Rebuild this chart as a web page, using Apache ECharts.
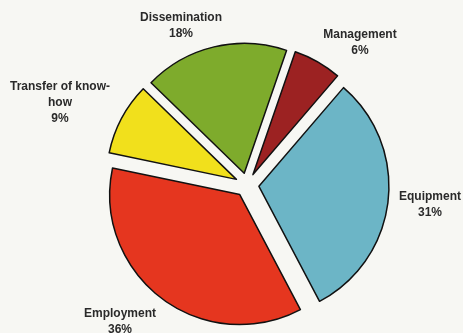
<!DOCTYPE html>
<html><head><meta charset="utf-8">
<script src="https://cdn.jsdelivr.net/npm/echarts@6/dist/echarts.min.js"></script>
<style>html,body{margin:0;padding:0;background:#f7f7f3;}#c{width:463px;height:333px;}</style>
</head><body><div id="c"></div>
<script>
var categories = ['Management', 'Equipment', 'Employment', 'Transfer of know-how', 'Dissemination'];
var values = [6, 31, 36, 9, 18];
var colors = ['#9c2222', '#6cb5c6', '#e5361f', '#f1e01c', '#7eab2c'];

// label anchor points (text layout only)
var labelAnchors = [[360, 43], [430, 205], [120, 322], [60, 103], [181, 26]];

var total = values.reduce(function (a, b) { return a + b; }, 0);
var labelTexts = categories.map(function (n, i) {
  return n.replace('know-', 'know-\n') + '\n' + Math.round(values[i] / total * 100) + '%';
});

var chart = echarts.init(document.getElementById('c'));
chart.setOption({
  backgroundColor: '#f7f7f3',
  animation: false,
  graphic: labelTexts.map(function (t, i) {
    return {
      type: 'text', x: labelAnchors[i][0], y: labelAnchors[i][1], silent: true,
      style: {
        text: t, align: 'center', verticalAlign: 'middle', fill: '#2a2a2a',
        font: 'bold 12px "Liberation Sans", Arial, sans-serif', lineHeight: 16
      }
    };
  }),
  series: [{
    type: 'pie',
    center: [247, 185],
    radius: 130,
    startAngle: 71,
    clockwise: true,
    selectedMode: 'multiple',
    selectedOffset: 12,
    emphasis: {disabled: true},
    itemStyle: {borderColor: '#111', borderWidth: 1.5},
    label: {show: false},
    labelLine: {show: false},
    data: categories.map(function (n, i) {
      return {name: n, value: values[i], selected: true, itemStyle: {color: colors[i]}};
    })
  }]
});
</script></body></html>
